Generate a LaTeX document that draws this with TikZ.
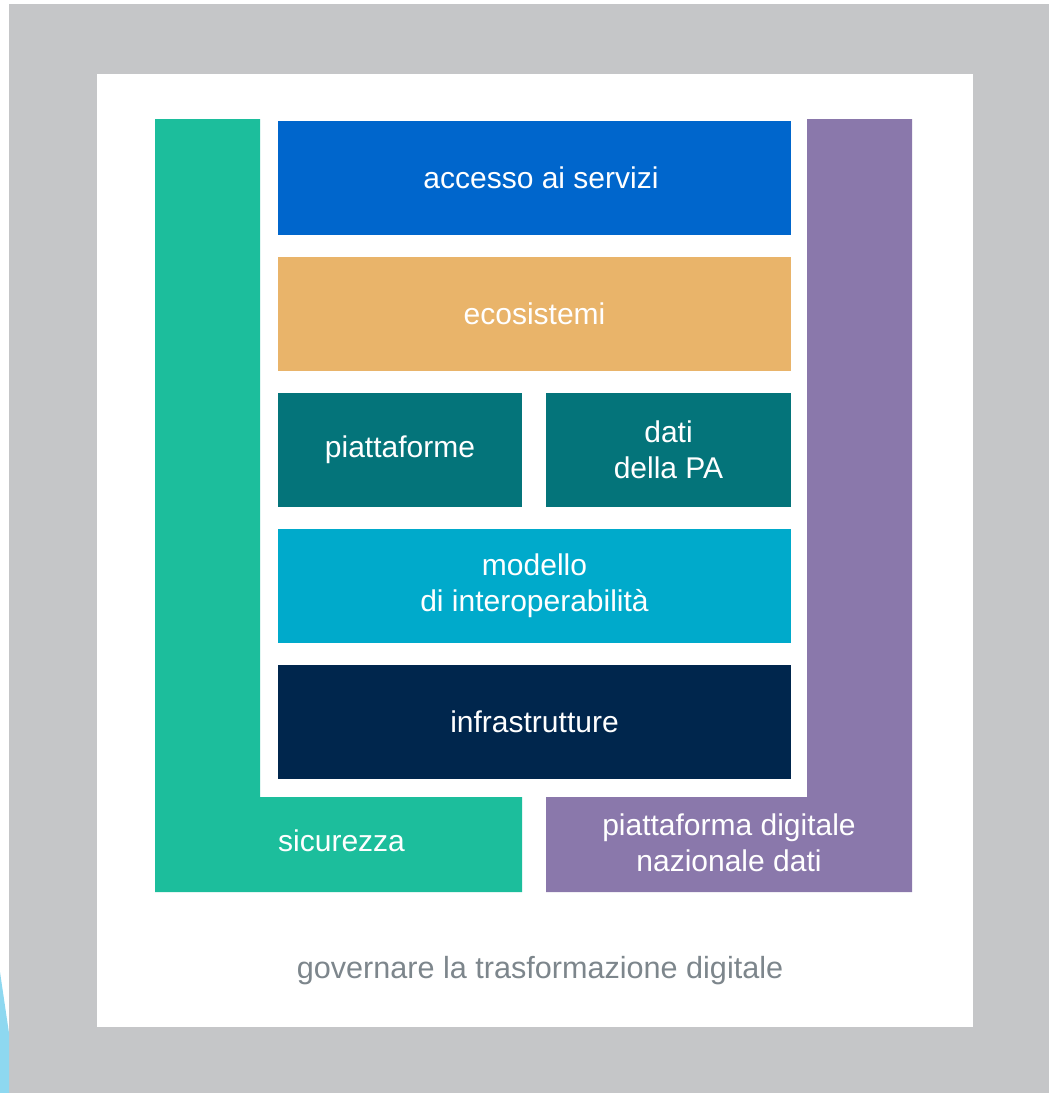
\documentclass[tikz,border=0pt]{standalone}
\usepackage{fontspec}
\setmainfont{Liberation Sans}
\definecolor{bggray}{HTML}{C5C6C8}
\definecolor{skyblue}{HTML}{8ED8F0}
\definecolor{secgreen}{HTML}{1CBE9C}
\definecolor{pdnd}{HTML}{8A78AB}
\definecolor{accblue}{HTML}{0066CC}
\definecolor{ecoorange}{HTML}{E9B46A}
\definecolor{darkteal}{HTML}{04747A}
\definecolor{cyanblue}{HTML}{00AACB}
\definecolor{navy}{HTML}{00264D}
\definecolor{govgray}{HTML}{7D868C}
\begin{document}
\begin{tikzpicture}[x=1pt,y=-1pt,
  layer/.style={fill=#1, draw=none, inner sep=0pt, outer sep=0pt, text=white,
    font=\fontsize{30}{36}\selectfont, align=center, minimum height=114pt},
  lbl/.style={text=white, inner sep=0pt, font=\fontsize{30}{36}\selectfont, align=center}]
\useasboundingbox (0,0) rectangle (1049,1093);
\fill[white] (0,0) rectangle (1049,1093);
\fill[bggray] (9,4) rectangle (1049,1093);
\fill[skyblue] (0,972) -- (9,1033) -- (9,1093) -- (0,1093) -- cycle;
\fill[white] (97,74) rectangle (973,1027);
% sicurezza L shape
\fill[secgreen] (155,119) -- (260,119) -- (260,797) -- (522,797) -- (522,892) -- (155,892) -- cycle;
% piattaforma digitale nazionale dati L shape
\fill[pdnd] (807,119) -- (912,119) -- (912,892) -- (546,892) -- (546,797) -- (807,797) -- cycle;
% layers
\node[layer=accblue, minimum width=513pt] (accesso) at (534.5,178) {};
\node[lbl] (accessolbl) at (541,178) {accesso ai servizi};
\node[layer=ecoorange, minimum width=513pt] (eco) at (534.5,314) {ecosistemi};
\node[layer=darkteal, minimum width=244pt] (piatt) at (400,450) {piattaforme};
\node[layer=darkteal, minimum width=245pt] (dati) at (668.5,450) {dati\\della PA};
\node[layer=cyanblue, minimum width=513pt] (modello) at (534.5,586) {modello\\di interoperabilità};
\node[layer=navy, minimum width=513pt] (infra) at (534.5,722) {infrastrutture};
% labels
\node[lbl, anchor=west] (sic) at (278,841) {sicurezza};
\node[lbl] (pdndlbl) at (729,843) {piattaforma digitale\\nazionale dati};
\node[lbl, text=govgray, font=\fontsize{30.6}{36}\selectfont] (gov) at (540,971) {governare la trasformazione digitale};
\end{tikzpicture}
\end{document}
